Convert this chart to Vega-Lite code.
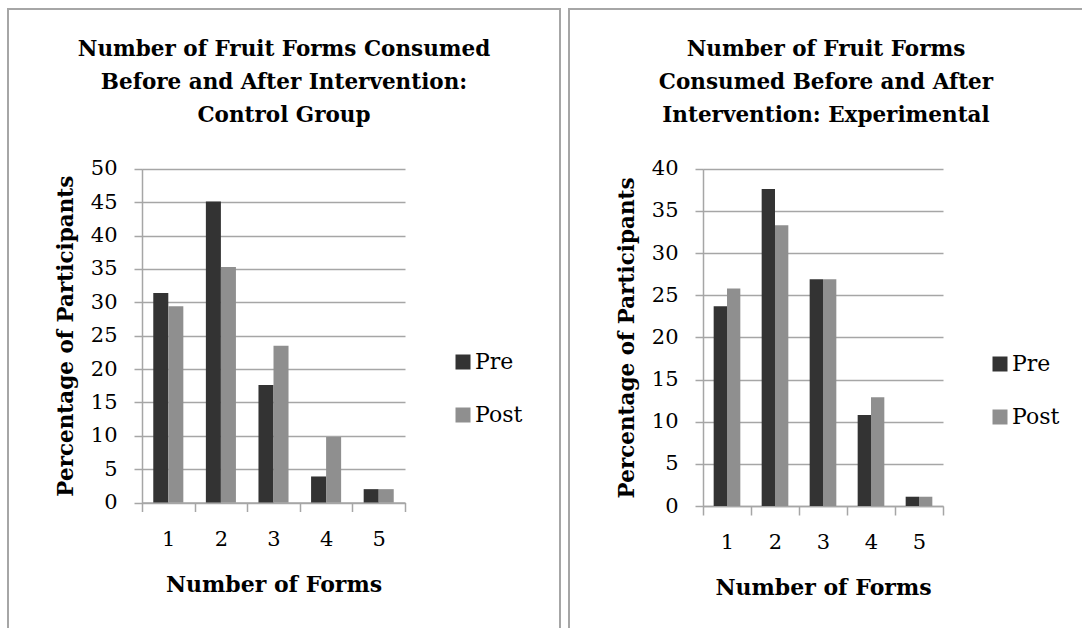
{
  "$schema": "https://vega.github.io/schema/vega-lite/v6.json",
  "padding": {"left": 7, "top": 8, "right": 0, "bottom": 0},
  "autosize": {"type": "pad"},
  "background": "white",
  "spacing": 7,
  "config": {
    "font": "DejaVu Serif",
    "view": {"stroke": "#a6a6a6", "strokeWidth": 2},
    "axis": {
      "domainColor": "#a6a6a6",
      "domainWidth": 1.5,
      "tickColor": "#a6a6a6",
      "tickWidth": 1.5,
      "gridColor": "#a6a6a6",
      "gridWidth": 1.5,
      "labelColor": "black",
      "labelFont": "DejaVu Serif",
      "labelFontSize": 21,
      "titleColor": "black",
      "titleFont": "DejaVu Serif",
      "titleFontSize": 21.5,
      "titleFontWeight": "bold"
    },
    "title": {
      "font": "DejaVu Serif",
      "fontSize": 21.5,
      "fontWeight": "bold",
      "color": "black",
      "lineHeight": 33,
      "anchor": "middle",
      "frame": "group"
    },
    "legend": {
      "title": null,
      "symbolType": "square",
      "symbolSize": 225,
      "symbolStrokeWidth": 0,
      "labelFont": "DejaVu Serif",
      "labelFontSize": 22,
      "labelColor": "black",
      "labelOffset": 1,
      "rowPadding": 31,
      "padding": 0
    }
  },
  "datasets": {
    "control": [
      {"forms": "1", "period": "Pre", "percent": 31.4},
      {"forms": "1", "period": "Post", "percent": 29.4},
      {"forms": "2", "period": "Pre", "percent": 45.1},
      {"forms": "2", "period": "Post", "percent": 35.3},
      {"forms": "3", "period": "Pre", "percent": 17.6},
      {"forms": "3", "period": "Post", "percent": 23.5},
      {"forms": "4", "period": "Pre", "percent": 3.9},
      {"forms": "4", "period": "Post", "percent": 9.8},
      {"forms": "5", "period": "Pre", "percent": 2.0},
      {"forms": "5", "period": "Post", "percent": 2.0}
    ],
    "experimental": [
      {"forms": "1", "period": "Pre", "percent": 23.7},
      {"forms": "1", "period": "Post", "percent": 25.8},
      {"forms": "2", "period": "Pre", "percent": 37.6},
      {"forms": "2", "period": "Post", "percent": 33.3},
      {"forms": "3", "period": "Pre", "percent": 26.9},
      {"forms": "3", "period": "Post", "percent": 26.9},
      {"forms": "4", "period": "Pre", "percent": 10.8},
      {"forms": "4", "period": "Post", "percent": 12.9},
      {"forms": "5", "period": "Pre", "percent": 1.1},
      {"forms": "5", "period": "Post", "percent": 1.1}
    ]
  },
  "resolve": {
    "scale": {"color": "independent", "x": "independent", "y": "independent", "xOffset": "independent"},
    "legend": {"color": "independent"}
  },
  "hconcat": [
    {
      "width": 552,
      "height": 640,
      "data": {"name": "control"},
      "title": {
        "text": ["Number of Fruit Forms Consumed", "Before and After Intervention:", "Control Group"],
        "offset": -117
      },
      "mark": {"type": "bar"},
      "encoding": {
        "x": {
          "field": "forms",
          "type": "ordinal",
          "scale": {"range": [134, 397], "paddingInner": 0, "paddingOuter": 0},
          "axis": {
            "title": "Number of Forms",
            "labelAngle": 0,
            "offset": -146.5,
            "tickBand": "extent",
            "tickSize": 9,
            "labelPadding": 17,
            "titlePadding": 25,
            "titleFontSize": 22
          }
        },
        "xOffset": {
          "field": "period",
          "sort": ["Pre", "Post"],
          "scale": {"paddingInner": 0, "paddingOuter": 0.75}
        },
        "y": {
          "field": "percent",
          "type": "quantitative",
          "scale": {"domain": [0, 50], "range": [493.5, 159.8], "nice": false, "zero": true},
          "axis": {
            "title": "Percentage of Participants",
            "values": [0, 5, 10, 15, 20, 25, 30, 35, 40, 45, 50],
            "offset": -134,
            "tickSize": 8,
            "labelPadding": 17,
            "titlePadding": 13,
            "grid": true
          }
        },
        "color": {
          "field": "period",
          "type": "nominal",
          "sort": ["Pre", "Post"],
          "scale": {"domain": ["Pre", "Post"], "range": ["#333333", "#8f8f8f"]},
          "legend": {"orient": "none", "legendX": 444, "legendY": 342}
        }
      }
    },
    {
      "width": 514,
      "height": 640,
      "data": {"name": "experimental"},
      "title": {
        "text": ["Number of Fruit Forms", "Consumed Before and After", "Intervention: Experimental"],
        "offset": -117
      },
      "mark": {"type": "bar"},
      "encoding": {
        "x": {
          "field": "forms",
          "type": "ordinal",
          "scale": {"range": [134, 374], "paddingInner": 0, "paddingOuter": 0},
          "axis": {
            "title": "Number of Forms",
            "labelAngle": 0,
            "offset": -143,
            "tickBand": "extent",
            "tickSize": 9,
            "labelPadding": 16,
            "titlePadding": 25,
            "titleFontSize": 22
          }
        },
        "xOffset": {
          "field": "period",
          "sort": ["Pre", "Post"],
          "scale": {"paddingInner": 0, "paddingOuter": 0.8}
        },
        "y": {
          "field": "percent",
          "type": "quantitative",
          "scale": {"domain": [0, 40], "range": [497, 159.8], "nice": false, "zero": true},
          "axis": {
            "title": "Percentage of Participants",
            "values": [0, 5, 10, 15, 20, 25, 30, 35, 40],
            "offset": -134,
            "tickSize": 8,
            "labelPadding": 17,
            "titlePadding": 13,
            "grid": true
          }
        },
        "color": {
          "field": "period",
          "type": "nominal",
          "sort": ["Pre", "Post"],
          "scale": {"domain": ["Pre", "Post"], "range": ["#333333", "#8f8f8f"]},
          "legend": {"orient": "none", "legendX": 420, "legendY": 344}
        }
      }
    }
  ]
}
